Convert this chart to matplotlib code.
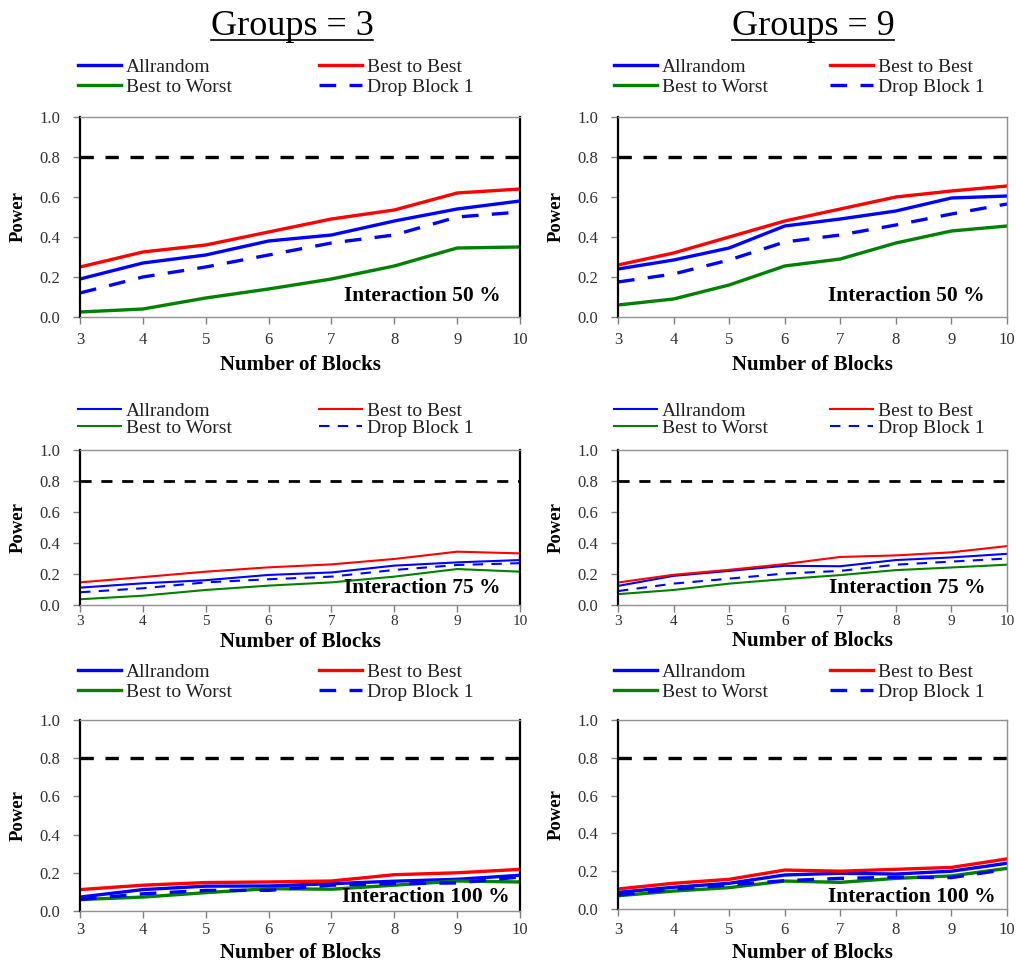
import matplotlib
matplotlib.use('Agg')
import matplotlib.pyplot as plt
from matplotlib.lines import Line2D
import numpy as np

plt.rcParams['font.family'] = ['Liberation Serif', 'DejaVu Serif']

blocks = [3, 4, 5, 6, 7, 8, 9, 10]
series_names = ['Allrandom', 'Best to Worst', 'Best to Best', 'Drop Block 1']

# Groups = 3
g3_50_allrandom = [0.19, 0.27, 0.31, 0.38, 0.41, 0.48, 0.54, 0.58]
g3_50_best_best = [0.25, 0.325, 0.36, 0.425, 0.49, 0.535, 0.62, 0.64]
g3_50_best_worst = [0.025, 0.04, 0.095, 0.14, 0.19, 0.255, 0.345, 0.35]
g3_50_drop1 = [0.12, 0.20, 0.25, 0.31, 0.37, 0.41, 0.50, 0.525]

g3_75_allrandom = [0.112, 0.14, 0.16, 0.194, 0.21, 0.254, 0.275, 0.29]
g3_75_best_best = [0.146, 0.18, 0.215, 0.243, 0.262, 0.297, 0.344, 0.333]
g3_75_best_worst = [0.037, 0.06, 0.097, 0.125, 0.146, 0.183, 0.232, 0.215]
g3_75_drop1 = [0.082, 0.108, 0.146, 0.166, 0.183, 0.226, 0.258, 0.27]

g3_100_allrandom = [0.073, 0.112, 0.13, 0.131, 0.143, 0.156, 0.166, 0.187]
g3_100_best_best = [0.112, 0.135, 0.149, 0.152, 0.157, 0.19, 0.20, 0.218]
g3_100_best_worst = [0.06, 0.073, 0.096, 0.117, 0.114, 0.135, 0.157, 0.152]
g3_100_drop1 = [0.06, 0.09, 0.108, 0.108, 0.135, 0.143, 0.147, 0.178]

# Groups = 9
g9_50_allrandom = [0.24, 0.285, 0.345, 0.455, 0.49, 0.53, 0.595, 0.605]
g9_50_best_best = [0.26, 0.32, 0.40, 0.48, 0.54, 0.60, 0.63, 0.655]
g9_50_best_worst = [0.06, 0.09, 0.16, 0.255, 0.29, 0.37, 0.43, 0.455]
g9_50_drop1 = [0.175, 0.215, 0.285, 0.375, 0.41, 0.46, 0.515, 0.565]

g9_75_allrandom = [0.123, 0.188, 0.22, 0.253, 0.25, 0.29, 0.307, 0.33]
g9_75_best_best = [0.145, 0.195, 0.227, 0.264, 0.31, 0.32, 0.34, 0.38]
g9_75_best_worst = [0.07, 0.097, 0.138, 0.167, 0.193, 0.225, 0.242, 0.26]
g9_75_drop1 = [0.09, 0.138, 0.17, 0.203, 0.22, 0.26, 0.28, 0.30]

g9_100_allrandom = [0.088, 0.115, 0.136, 0.18, 0.189, 0.185, 0.20, 0.242]
g9_100_best_best = [0.106, 0.136, 0.157, 0.206, 0.20, 0.21, 0.22, 0.265]
g9_100_best_worst = [0.07, 0.095, 0.113, 0.148, 0.141, 0.162, 0.175, 0.215]
g9_100_drop1 = [0.074, 0.104, 0.127, 0.15, 0.162, 0.168, 0.166, 0.21]

target_power = 0.8

W, H = 1016, 964
fig = plt.figure(figsize=(W / 100, H / 100), dpi=100)


def px_axes(x0, y0, x1, y1):
    return fig.add_axes([x0 / W, 1 - y1 / H, (x1 - x0) / W, (y1 - y0) / H])


def panel(box, data, label, lw, leg_xy, col_gap, row_gap, xlab_top, right_black,
          xpad=6, xsize=12):
    ax = px_axes(*box)
    x0, y0, x1, y1 = box
    allr, bw, bb, d1 = data
    ax.plot(blocks, allr, color='#0000ff', lw=lw, label=series_names[0])
    ax.plot(blocks, bw, color='#008000', lw=lw, label=series_names[1])
    ax.plot(blocks, bb, color='#ff0000', lw=lw, label=series_names[2])
    ax.plot(blocks, d1, color='#0000ff', lw=lw, dashes=(5, 4), label=series_names[3])
    ax.axhline(target_power, color='black', lw=2.4 if lw > 2 else 2.0, dashes=(4, 3.5))
    ax.set_xlim(3, 10)
    ax.set_ylim(0, 1.0)
    ax.set_xticks(blocks)
    ax.set_yticks(np.arange(0, 1.01, 0.2))
    ax.set_yticklabels(['%.1f' % v for v in np.arange(0, 1.01, 0.2)])
    ax.tick_params(labelsize=12, colors='#808080', labelcolor='#303030', length=5, width=1)
    ax.tick_params(axis='y', pad=9)
    ax.tick_params(axis='x', pad=xpad, labelsize=xsize)
    for s in ('top', 'bottom'):
        ax.spines[s].set_color('#909090')
        ax.spines[s].set_linewidth(1)
    ax.spines['left'].set_color('black')
    ax.spines['left'].set_linewidth(1.6)
    if right_black:
        ax.spines['right'].set_color('black')
        ax.spines['right'].set_linewidth(1.6)
    else:
        ax.spines['right'].set_color('#909090')
        ax.spines['right'].set_linewidth(1)
    ax.set_ylabel('Power', fontsize=13.5, fontweight='bold')
    ax.yaxis.set_label_coords(-53 / (x1 - x0), 0.5)
    ax.set_xlabel('Number of Blocks', fontsize=15, fontweight='bold')
    ax.xaxis.set_label_coords(0.5, -(xlab_top - y1) / (y1 - y0))
    ax.text(label[1], label[2], label[0], transform=ax.transAxes, ha='right',
            va='center', fontsize=15.5, fontweight='bold')
    h, l = ax.get_legend_handles_labels()
    leg = ax.legend(h, l, ncol=2, loc='upper left',
                    bbox_to_anchor=(leg_xy[0] / W, 1 - leg_xy[1] / H),
                    bbox_transform=fig.transFigure, frameon=False,
                    fontsize=14, handlelength=2.2, handletextpad=0.25,
                    columnspacing=col_gap, labelspacing=row_gap, borderpad=0,
                    borderaxespad=0)
    for t in leg.get_texts():
        t.set_color('#202020')
    return ax


lw_thick, lw_thin = 2.4, 1.5

panel((80, 117, 520, 317), (g3_50_allrandom, g3_50_best_worst, g3_50_best_best, g3_50_drop1),
      ('Interaction 50 %', 0.955, 0.105), lw_thick, (78, 58), 4.5, 0.15, 355, True)
panel((618, 117, 1007, 317), (g9_50_allrandom, g9_50_best_worst, g9_50_best_best, g9_50_drop1),
      ('Interaction 50 %', 0.943, 0.105), lw_thick, (614, 58), 3.2, 0.15, 355, False)

panel((80, 450, 520, 605), (g3_75_allrandom, g3_75_best_worst, g3_75_best_best, g3_75_drop1),
      ('Interaction 75 %', 0.955, 0.11), lw_thin, (78, 402), 4.5, 0.0, 632, True,
      xpad=2, xsize=11)
panel((618, 450, 1007, 605), (g9_75_allrandom, g9_75_best_worst, g9_75_best_best, g9_75_drop1),
      ('Interaction 75 %', 0.945, 0.11), lw_thin, (614, 402), 3.2, 0.0, 631, False,
      xpad=2, xsize=11)

panel((80, 720, 520, 911), (g3_100_allrandom, g3_100_best_worst, g3_100_best_best, g3_100_drop1),
      ('Interaction 100 %', 0.977, 0.073), lw_thick, (78, 663), 4.5, 0.15, 943, True,
      xpad=3)
panel((618, 720, 1007, 909), (g9_100_allrandom, g9_100_best_worst, g9_100_best_best, g9_100_drop1),
      ('Interaction 100 %', 0.97, 0.065), lw_thick, (614, 663), 3.2, 0.15, 943, False,
      xpad=4)

# column titles, underlined
for cx, title in ((292, 'Groups = 3'), (813, 'Groups = 9')):
    t = fig.text(cx / W, 1 - 35 / H, title, ha='center', va='baseline', fontsize=26)
    fig.canvas.draw()
    bb = t.get_window_extent()
    fig.add_artist(Line2D([bb.x0 / W, bb.x1 / W], [1 - 40 / H, 1 - 40 / H],
                          color='black', lw=1.2))

fig.savefig('out.png', dpi=100)
